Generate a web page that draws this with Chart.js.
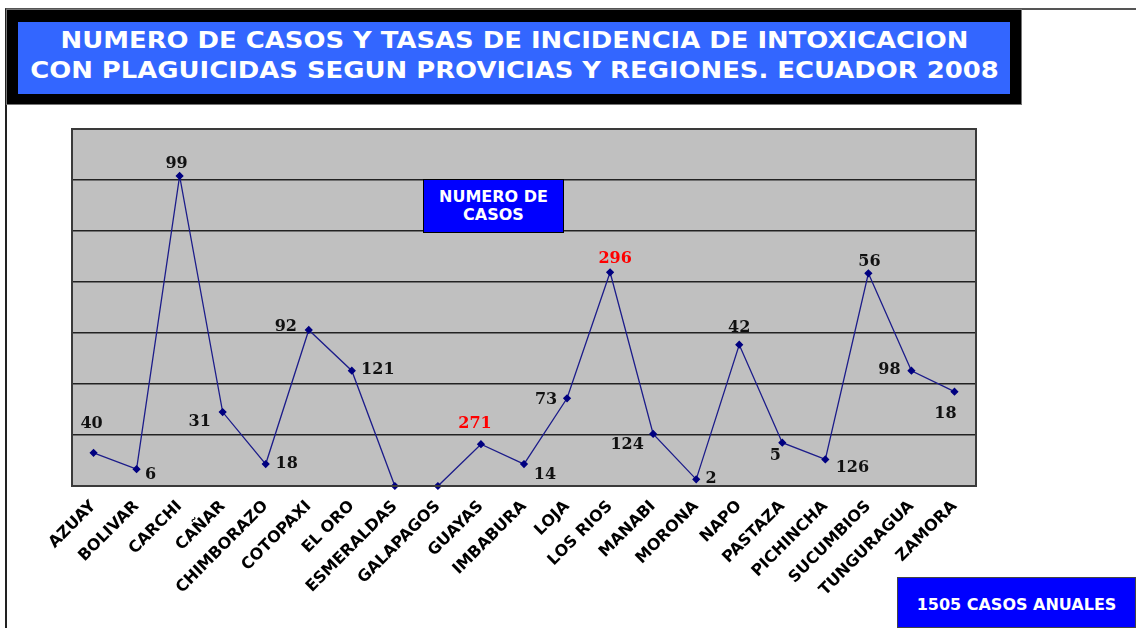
<!DOCTYPE html>
<html>
<head>
<meta charset="utf-8">
<script src="https://cdn.jsdelivr.net/npm/chart.js@4.4.1/dist/chart.umd.min.js"></script>
<style>
  html, body { margin: 0; padding: 0; background: #fff; }
  body { width: 1136px; height: 628px; position: relative; overflow: hidden; font-family: "DejaVu Sans", Verdana, sans-serif; }
  #marco { position: absolute; left: 5px; top: 8px; width: 1131px; height: 640px; border-left: 2px solid #222; border-top: 2px solid #555; }
  #titulo-caja { position: absolute; left: 7px; top: 10px; width: 1014px; height: 94px; background: #000; box-shadow: 0 0 0 1px #777; }
  #titulo { position: absolute; left: 18px; top: 22px; width: 992px; height: 72px; background: #3366FF; color: #fff;
            font-weight: bold; font-size: 23px; line-height: 30px; text-align: center; padding-top: 3px; box-sizing: border-box; }
  #titulo span { display: inline-block; transform: scaleX(1.125); white-space: nowrap; }
  #grafico { position: absolute; left: 0; top: 0; }
  .caja-azul { position: absolute; background: #0000FF; color: #fff; font-weight: bold; text-align: center; box-sizing: border-box; }
  #num-casos { left: 423px; top: 179px; width: 141px; height: 54px; border: 1px solid #000; font-size: 16px; line-height: 18px; padding-top: 8px; }
  #anuales { left: 897px; top: 577px; width: 239px; height: 51px; border: 1px solid #444; font-size: 16px; line-height: 54px; }
</style>
</head>
<body>
<div id="marco"></div>
<div id="titulo-caja"></div>
<div id="titulo"><span>NUMERO DE CASOS Y TASAS DE INCIDENCIA DE INTOXICACION</span><br><span>CON PLAGUICIDAS SEGUN PROVICIAS Y REGIONES. ECUADOR 2008</span></div>
<canvas id="grafico" width="1136" height="628"></canvas>
<div id="num-casos" class="caja-azul">NUMERO DE<br>CASOS</div>
<div id="anuales" class="caja-azul">1505 CASOS ANUALES</div>
<script>
const provincias = ['AZUAY', 'BOLIVAR', 'CARCHI', 'CAÑAR', 'CHIMBORAZO', 'COTOPAXI', 'EL ORO', 'ESMERALDAS',
  'GALAPAGOS', 'GUAYAS', 'IMBABURA', 'LOJA', 'LOS RIOS', 'MANABI', 'MORONA', 'NAPO', 'PASTAZA',
  'PICHINCHA', 'SUCUMBIOS', 'TUNGURAGUA', 'ZAMORA'];

// tasa de incidencia (altura de la linea)
const tasas = [6.5, 3.3, 60.8, 14.5, 4.3, 30.6, 22.6, 0, 0, 8.2, 4.3, 17.2, 41.9, 10.2, 1.3, 27.7, 8.5, 5.2, 41.7, 22.6, 18.5];

// numero de casos (etiquetas)
const casos = [40, 6, 99, 31, 18, 92, 121, null, null, 271, 14, 73, 296, 124, 2, 42, 5, 126, 56, 98, 18];

const ejeY = { min: 0, max: 70, paso: 10 };

// donde va cada etiqueta respecto a su punto
const desplazamientos = [[-2, -29], [14, 6], [-3, -12], [-23, 10], [21, 0], [-23, -3], [26, -1], [0, 0], [0, 0],
  [-6, -20], [21, 11], [-21, 2], [5, -13], [-26, 11], [15, -1], [0, -17], [-7, 13], [27, 8], [1, -11], [-22, -1], [-9, 22]];
const colorEtiqueta = v => (v > 200 ? '#FF0000' : '#111');

const fondoArea = {
  id: 'fondoArea',
  beforeDraw(chart) {
    const { ctx, chartArea: a } = chart;
    ctx.save();
    ctx.fillStyle = '#C0C0C0';
    ctx.fillRect(a.left, a.top, a.right - a.left, a.bottom - a.top);
    ctx.restore();
  },
  afterDraw(chart) {
    const { ctx, chartArea: a } = chart;
    ctx.save();
    ctx.strokeStyle = '#3a3a3a';
    ctx.lineWidth = 2;
    ctx.strokeRect(a.left, a.top, a.right - a.left, a.bottom - a.top);
    ctx.restore();
  }
};

const etiquetas = {
  id: 'etiquetas',
  afterDatasetsDraw(chart) {
    const { ctx } = chart;
    const meta = chart.getDatasetMeta(0);
    ctx.save();
    ctx.font = 'bold 16px "DejaVu Serif", serif';
    ctx.textAlign = 'center';
    ctx.textBaseline = 'middle';
    meta.data.forEach((p, i) => {
      if (casos[i] == null) return;
      const [dx, dy] = desplazamientos[i];
      ctx.fillStyle = colorEtiqueta(casos[i]);
      ctx.fillText(String(casos[i]), p.x + dx, p.y + dy);
    });
    ctx.restore();
  }
};

new Chart(document.getElementById('grafico'), {
  type: 'line',
  data: {
    labels: provincias,
    datasets: [{
      data: tasas,
      borderColor: '#1c1c8a',
      borderWidth: 1.3,
      pointStyle: 'rectRot',
      pointRadius: 3.2,
      pointBackgroundColor: '#000080',
      pointBorderColor: '#000080',
      tension: 0,
      clip: false
    }]
  },
  options: {
    responsive: false,
    animation: false,
    layout: { padding: { left: 72, top: 129, right: 160, bottom: 0 } },
    plugins: { legend: { display: false }, tooltip: { enabled: false } },
    scales: {
      x: {
        offset: true,
        grid: { display: false },
        border: { display: false },
        ticks: {
          color: '#000',
          font: { family: '"DejaVu Sans", Verdana, sans-serif', weight: 'bold', size: 16 },
          maxRotation: 45,
          minRotation: 45,
          autoSkip: false,
          padding: 3
        },
        afterFit: s => { s.height = 628 - 486; }
      },
      y: {
        min: ejeY.min,
        max: ejeY.max,
        ticks: { display: false, stepSize: ejeY.paso },
        grid: { color: '#222', lineWidth: 1.5, drawTicks: false },
        border: { display: false },
        afterFit: s => { s.width = 0; }
      }
    }
  },
  plugins: [fondoArea, etiquetas]
});
</script>
</body>
</html>
